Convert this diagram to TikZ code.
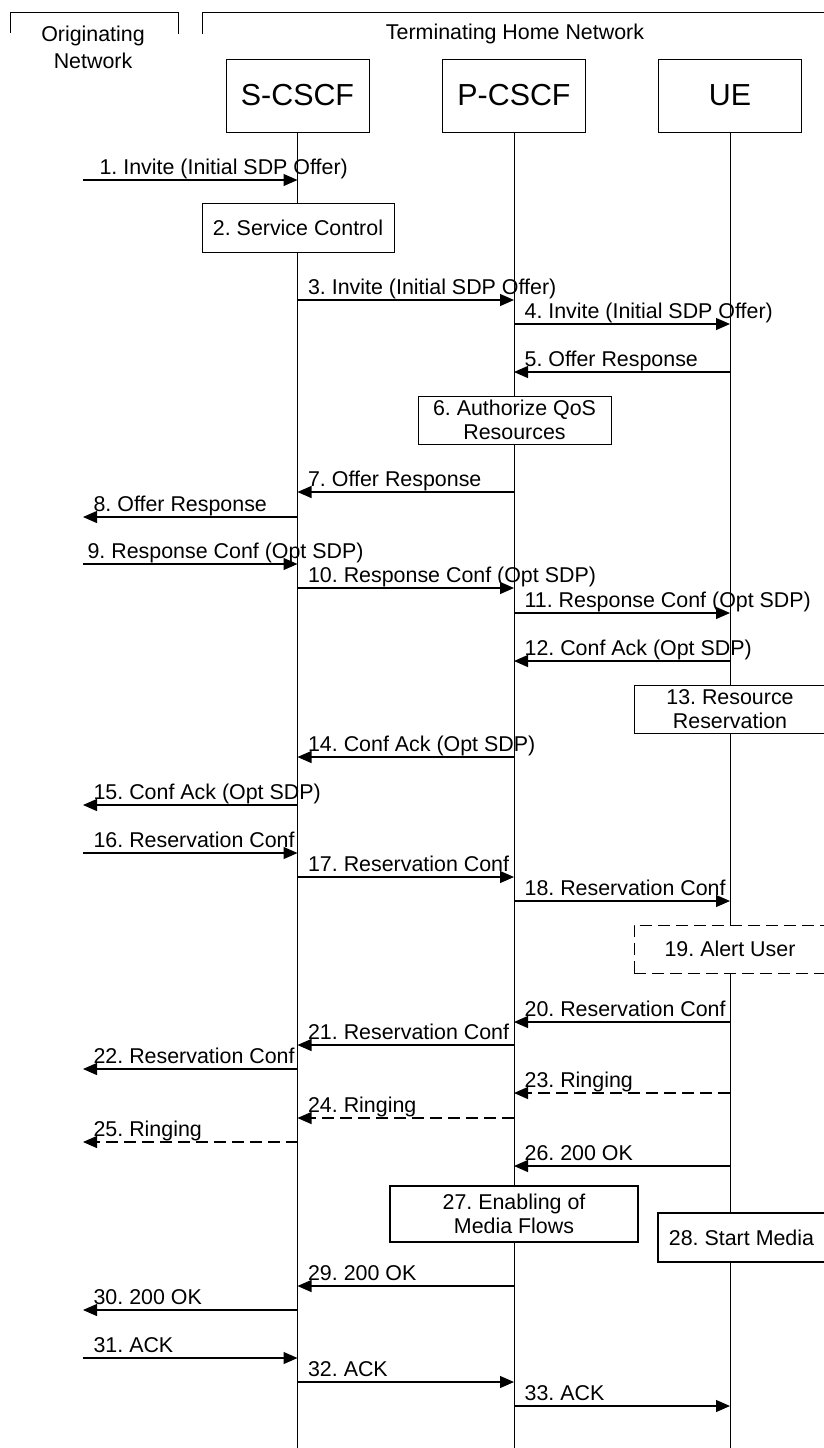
\documentclass[tikz,border=0pt]{standalone}
\usepackage{fontspec}
\setmainfont{Liberation Sans}
\usetikzlibrary{arrows.meta, positioning, calc}
\frenchspacing

\begin{document}
\begin{tikzpicture}[x=0.5pt, y=-0.5pt, >={Triangle[length=7pt,width=6pt]},
    font=\fontsize{10.7}{12}\selectfont,
    entity/.style={draw, fill=white, line width=0.5pt, minimum width=71.5pt, minimum height=36.5pt, font=\fontsize{15.2}{18}\selectfont},
    action/.style={draw, fill=white, line width=0.5pt, align=center, inner sep=1pt},
    msg/.style={->, line width=0.6pt},
    reply/.style={msg, dash pattern=on 6pt off 3pt},
    lbl/.style={anchor=base west, inner sep=0pt, xshift=5pt, yshift=3pt}]
    \useasboundingbox (0,0) rectangle (824,1448);

    % Networks
    \draw[line width=0.5pt] (10.5,33) -- (10.5,12) -- (178,12) -- (178,34);
    \draw[line width=0.5pt] (202,34) -- (202,12) -- (830,12);
    \node[align=center, font=\fontsize{10.7}{13.5}\selectfont] (orignet) at (93,47) {Originating\\Network};
    \node (termnet) at (515,34) {Terminating Home Network};

    % Entities
    \node[entity] (scscf) at (297.5,95.5) {S-CSCF};
    \node[entity] (pcscf) at (514,95.5) {P-CSCF};
    \node[entity] (ue) at (730,95.5) {UE};
    \coordinate (orig) at (83,0);

    % Lifelines
    \draw[line width=0.5pt] (scscf.south) -- (scscf |- 0,1448);
    \draw[line width=0.5pt] (pcscf.south) -- (pcscf |- 0,1448);
    \draw[line width=0.5pt] (ue.south) -- (ue |- 0,1448);

    % Actions
    \node[action, minimum width=96pt, minimum height=24.5pt] (svc) at (298,227.5) {2. Service Control};
    \node[action, minimum width=96.5pt, minimum height=24pt] (qos) at (514.5,420) {6. Authorize QoS\\Resources};
    \node[action, minimum width=96pt, minimum height=24pt] (rsv) at (730,709) {13. Resource\\Reservation};
    \node[action, dash pattern=on 6pt off 3pt, minimum width=96pt, minimum height=24pt] (alert) at (730,949) {19. Alert User};
    \node[action, line width=1pt, minimum width=124pt, minimum height=28pt] (media) at (514,1214) {27. Enabling of\\Media Flows};
    \node[action, line width=0.75pt, minimum width=83.5pt, minimum height=24.5pt] (start) at (741.5,1237.5) {28. Start Media};

    % Messages
    \draw[msg] (orig |- 0,180) -- (scscf |- 0,180) node[lbl, pos=0, xshift=3pt] {1. Invite (Initial SDP Offer)};
    \draw[msg] (scscf |- 0,300) -- (pcscf |- 0,300) node[lbl, pos=0] {3. Invite (Initial SDP Offer)};
    \draw[msg] (pcscf |- 0,324) -- (ue |- 0,324) node[lbl, pos=0] {4. Invite (Initial SDP Offer)};
    \draw[msg] (ue |- 0,372) -- (pcscf |- 0,372) node[lbl, pos=1] {5. Offer Response};
    \draw[msg] (pcscf |- 0,492) -- (scscf |- 0,492) node[lbl, pos=1] {7. Offer Response};
    \draw[msg] (scscf |- 0,517) -- (orig |- 0,517) node[lbl, pos=1] {8. Offer Response};
    \draw[msg] (orig |- 0,564) -- (scscf |- 0,564) node[lbl, pos=0, xshift=-3pt] {9. Response Conf (Opt SDP)};
    \draw[msg] (scscf |- 0,588) -- (pcscf |- 0,588) node[lbl, pos=0] {10. Response Conf (Opt SDP)};
    \draw[msg] (pcscf |- 0,613) -- (ue |- 0,613) node[lbl, pos=0] {11. Response Conf (Opt SDP)};
    \draw[msg] (ue |- 0,661) -- (pcscf |- 0,661) node[lbl, pos=1] {12. Conf Ack (Opt SDP)};
    \draw[msg] (pcscf |- 0,757) -- (scscf |- 0,757) node[lbl, pos=1] {14. Conf Ack (Opt SDP)};
    \draw[msg] (scscf |- 0,805) -- (orig |- 0,805) node[lbl, pos=1] {15. Conf Ack (Opt SDP)};
    \draw[msg] (orig |- 0,853) -- (scscf |- 0,853) node[lbl, pos=0] {16. Reservation Conf};
    \draw[msg] (scscf |- 0,877) -- (pcscf |- 0,877) node[lbl, pos=0] {17. Reservation Conf};
    \draw[msg] (pcscf |- 0,901) -- (ue |- 0,901) node[lbl, pos=0] {18. Reservation Conf};
    \draw[msg] (ue |- 0,1022) -- (pcscf |- 0,1022) node[lbl, pos=1] {20. Reservation Conf};
    \draw[msg] (pcscf |- 0,1045) -- (scscf |- 0,1045) node[lbl, pos=1] {21. Reservation Conf};
    \draw[msg] (scscf |- 0,1069) -- (orig |- 0,1069) node[lbl, pos=1] {22. Reservation Conf};
    \draw[reply] (ue |- 0,1093) -- (pcscf |- 0,1093) node[lbl, pos=1] {23. Ringing};
    \draw[reply] (pcscf |- 0,1118) -- (scscf |- 0,1118) node[lbl, pos=1] {24. Ringing};
    \draw[reply] (scscf |- 0,1142) -- (orig |- 0,1142) node[lbl, pos=1] {25. Ringing};
    \draw[msg] (ue |- 0,1166) -- (pcscf |- 0,1166) node[lbl, pos=1] {26. 200 OK};
    \draw[msg] (pcscf |- 0,1286) -- (scscf |- 0,1286) node[lbl, pos=1] {29. 200 OK};
    \draw[msg] (scscf |- 0,1310) -- (orig |- 0,1310) node[lbl, pos=1] {30. 200 OK};
    \draw[msg] (orig |- 0,1358) -- (scscf |- 0,1358) node[lbl, pos=0] {31. ACK};
    \draw[msg] (scscf |- 0,1382) -- (pcscf |- 0,1382) node[lbl, pos=0] {32. ACK};
    \draw[msg] (pcscf |- 0,1406) -- (ue |- 0,1406) node[lbl, pos=0] {33. ACK};
\end{tikzpicture}
\end{document}
